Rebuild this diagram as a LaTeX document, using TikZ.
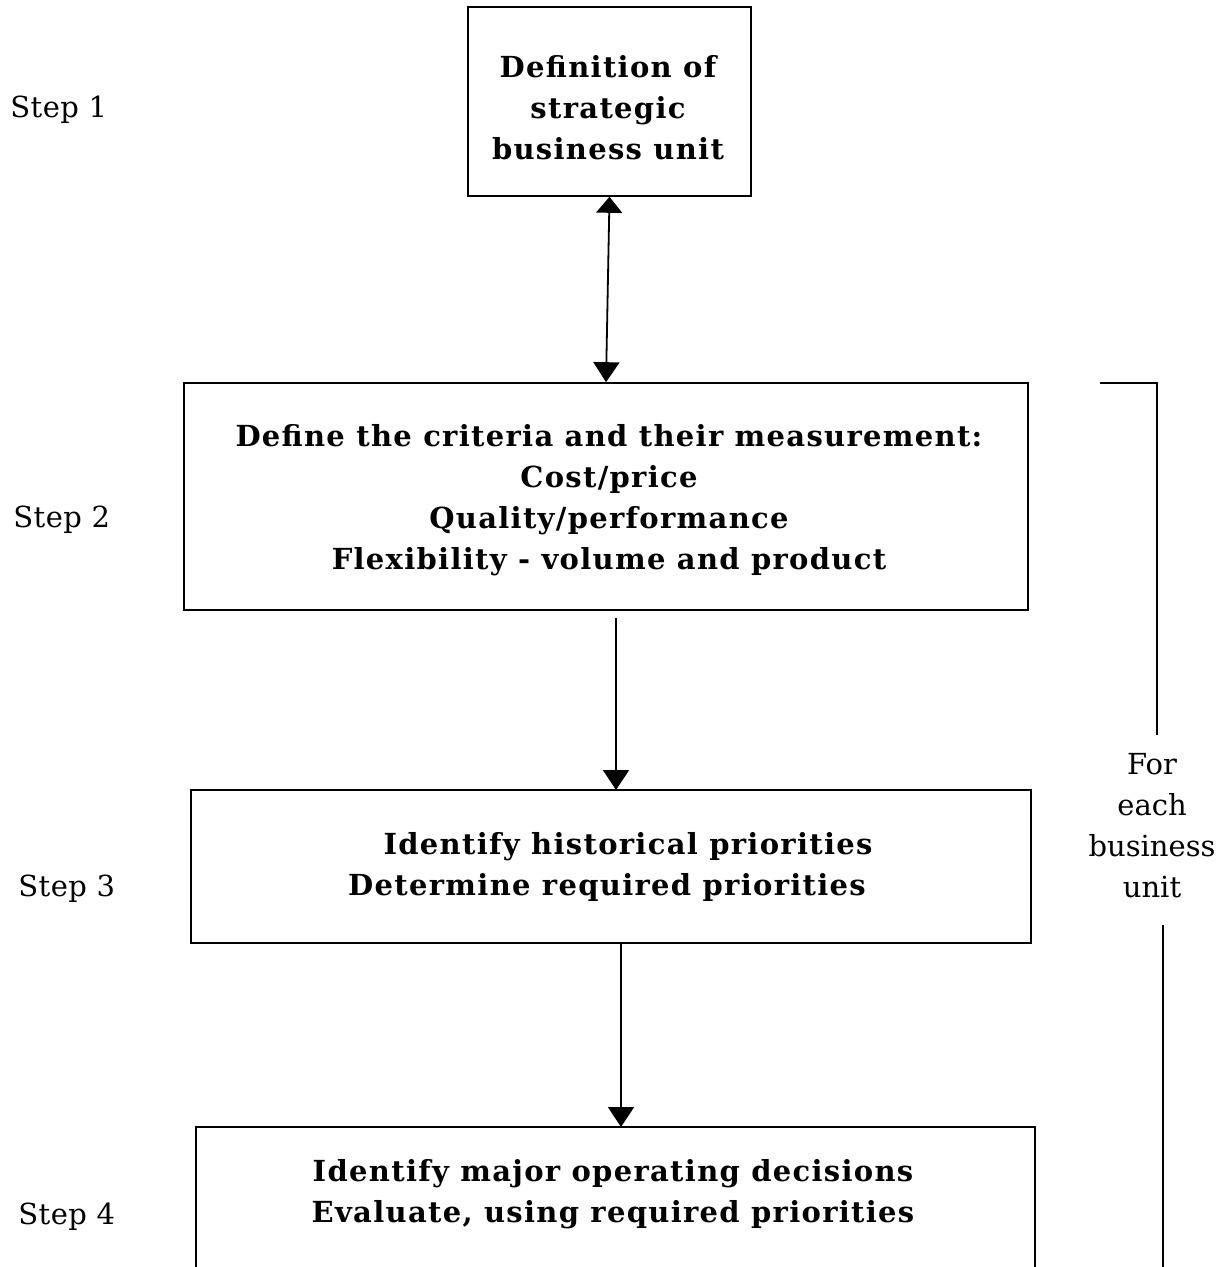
\documentclass[tikz,border=0pt]{standalone}
\usepackage{fontspec}
\setmainfont{DejaVu Serif}
\newfontfamily\boxserif{DejaVu Serif}[LetterSpace=4.5]
\newfontfamily\labelserif{DejaVu Serif}[LetterSpace=1.5]
\usetikzlibrary{arrows.meta}
\begin{document}
\begin{tikzpicture}[x=0.5pt,y=-0.5pt,
  box/.style={draw,line width=0.8pt,inner sep=0pt},
  boxtext/.style={draw=none,inner sep=0pt,font=\fontsize{14.5}{20.5}\boxserif\bfseries,align=center},
  steplabel/.style={anchor=west,font=\fontsize{14.5}{20}\labelserif,inner sep=0pt},
  flow/.style={line width=0.9pt,-{Triangle[width=13pt,length=10pt]}},
  twoway/.style={line width=0.9pt,{Triangle[width=13pt,length=8pt]}-{Triangle[width=13pt,length=10pt]}},
  bracket/.style={line width=0.9pt}]
\clip (0,0) rectangle (1228,1267);
\fill[white] (0,0) rectangle (1228,1267);

% process boxes
\node[box,minimum width=141.5pt,minimum height=94.5pt] (b1) at (609.5,101.5) {};
\node[boxtext] (t1) at (608,108)
  {Definition of\\strategic\\business unit};
\node[box,minimum width=422pt,minimum height=113.5pt] (b2) at (606,496.5) {};
\node[boxtext] (t2) at (609,500)
  {Define the criteria and their measurement:\\Cost/price\\Quality/performance\hspace*{18pt}\\Flexibility - volume and product};
\node[box,minimum width=420pt,minimum height=76.5pt] (b3) at (611,866.5) {};
\node[boxtext] (t3) at (607,867)
  {\hspace*{21pt}Identify historical priorities\\Determine required priorities};
\node[box,minimum width=419.5pt,minimum height=150pt] (b4) at (615.5,1277) {};
\node[boxtext] (t4) at (613,1194)
  {Identify major operating decisions\\Evaluate, using required priorities};

% step labels
\node[steplabel] (s1) at (10,110) {Step 1};
\node[steplabel] (s2) at (13,520) {Step 2};
\node[steplabel] (s3) at (18,889) {Step 3};
\node[steplabel] (s4) at (18,1217) {Step 4};

% connectors
\coordinate (a2s) at (616,618);
\coordinate (a2e) at (616,790);
\coordinate (a3s) at (621,943);
\coordinate (a3e) at (621,1127);
\draw[twoway] (b1.south) -- (b2.north);
\draw[flow] (a2s) -- (a2e);
\draw[flow] (a3s) -- (a3e);

% bracket spanning steps 2-4
\coordinate (bt) at (1100,383);
\coordinate (bc) at (1157,383);
\coordinate (bm) at (1157,735);
\coordinate (bl) at (1163,925);
\coordinate (be) at (1163,1300);
\node[align=center,inner sep=0pt,font=\fontsize{14.5}{20.5}\selectfont] (each) at (1152,826)
  {For\\each\\business\\unit};
\draw[bracket] (bt) -- (bc) -- (bm);
\draw[bracket] (bl) -- (be);
\end{tikzpicture}
\end{document}
